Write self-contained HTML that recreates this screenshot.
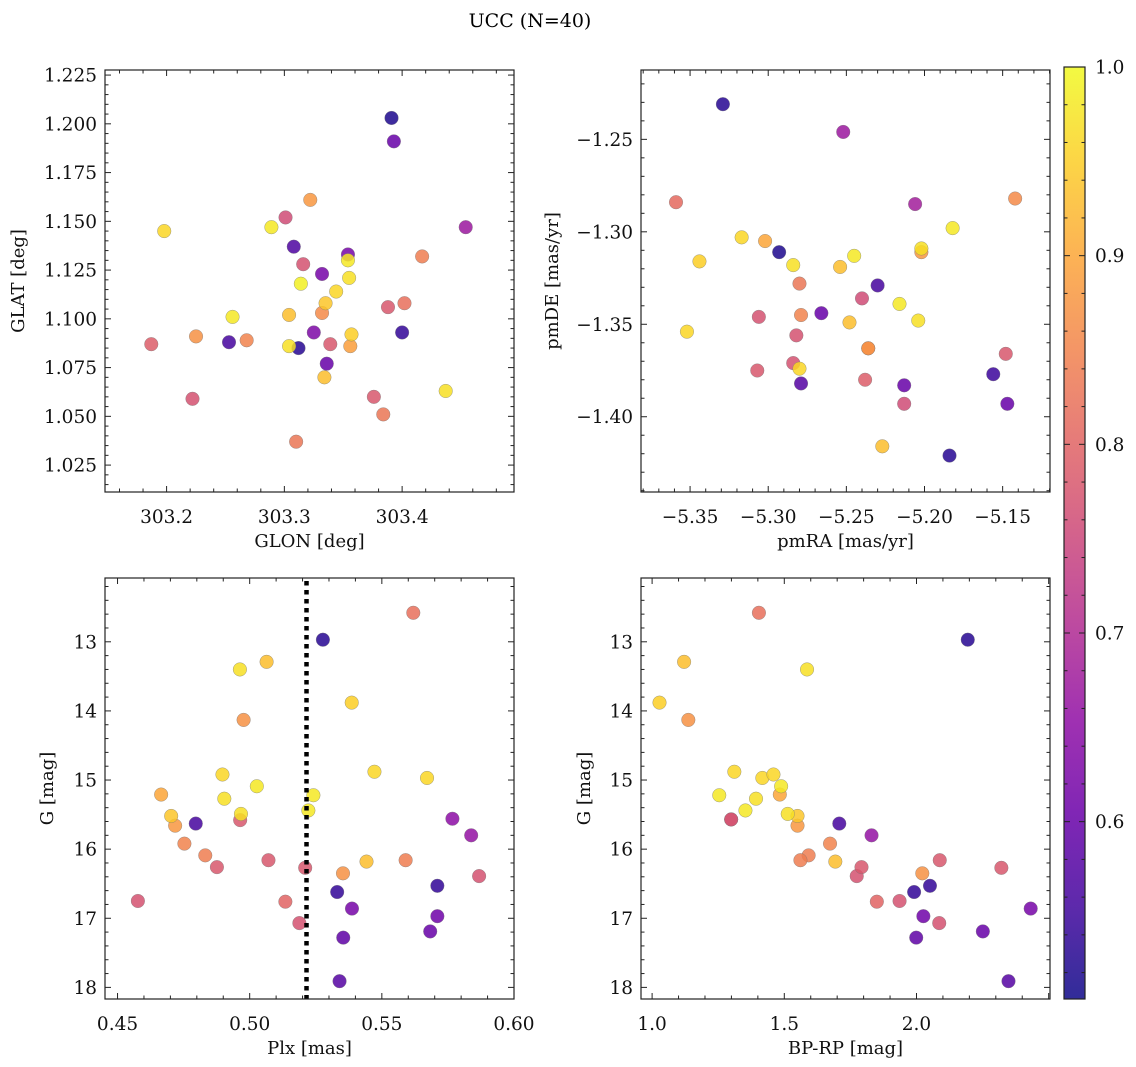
<!DOCTYPE html>
<html><head><meta charset="utf-8"><style>
html,body{margin:0;padding:0;background:#fff;}
svg{display:block;font-family:"DejaVu Serif","Liberation Serif",serif;}
</style></head><body>
<svg id="fig" width="1136" height="1067" viewBox="0 0 1136 1067" xmlns="http://www.w3.org/2000/svg">
<rect width="1136" height="1067" fill="#fff"/>
<text x="530" y="27" font-size="19" text-anchor="middle">UCC (N=40)</text>
</svg>
<script>
// ---- data ----
const glon = [303.391,303.393,303.322,303.301,303.289,303.198,303.454,303.308,303.354,303.354,303.316,303.332,303.355,303.417,303.314,303.344,303.335,303.332,303.304,303.256,303.388,303.402,303.225,303.187,303.253,303.268,303.325,303.400,303.357,303.356,303.339,303.304,303.312,303.336,303.334,303.437,303.222,303.376,303.384,303.310];
const glat = [1.203,1.191,1.161,1.152,1.147,1.145,1.147,1.137,1.133,1.130,1.128,1.123,1.121,1.132,1.118,1.114,1.108,1.103,1.102,1.101,1.106,1.108,1.091,1.087,1.088,1.089,1.093,1.093,1.092,1.086,1.087,1.086,1.085,1.077,1.070,1.063,1.059,1.060,1.051,1.037];
const probA = [0.52,0.60,0.88,0.76,0.98,0.96,0.67,0.57,0.62,0.98,0.77,0.62,0.97,0.84,0.99,0.96,0.94,0.86,0.93,0.98,0.78,0.82,0.87,0.79,0.56,0.85,0.63,0.54,0.95,0.89,0.78,0.97,0.53,0.60,0.93,0.97,0.77,0.78,0.83,0.83];

const pmra = [-5.329,-5.252,-5.359,-5.206,-5.142,-5.182,-5.317,-5.302,-5.293,-5.202,-5.202,-5.344,-5.245,-5.284,-5.254,-5.280,-5.230,-5.240,-5.216,-5.306,-5.279,-5.266,-5.248,-5.204,-5.352,-5.282,-5.236,-5.236,-5.284,-5.280,-5.307,-5.279,-5.238,-5.213,-5.213,-5.148,-5.156,-5.147,-5.227,-5.184];
const pmde = [-1.231,-1.246,-1.284,-1.285,-1.282,-1.298,-1.303,-1.305,-1.311,-1.309,-1.311,-1.316,-1.313,-1.318,-1.319,-1.328,-1.329,-1.336,-1.339,-1.346,-1.345,-1.344,-1.349,-1.348,-1.354,-1.356,-1.363,-1.363,-1.371,-1.374,-1.375,-1.382,-1.380,-1.383,-1.393,-1.366,-1.377,-1.393,-1.416,-1.421];
const probB = [0.53,0.67,0.81,0.68,0.86,0.98,0.96,0.90,0.52,0.97,0.88,0.95,0.98,0.97,0.93,0.83,0.56,0.76,0.98,0.77,0.85,0.60,0.93,0.97,0.96,0.77,0.86,0.87,0.77,0.96,0.78,0.58,0.79,0.60,0.76,0.78,0.55,0.60,0.93,0.53];

const plx = [0.5619,0.5277,0.5064,0.4963,0.5386,0.4977,0.4897,0.5472,0.5671,0.5027,0.4665,0.4904,0.5241,0.5222,0.4703,0.4967,0.4964,0.4718,0.4796,0.5767,0.5838,0.4753,0.4832,0.4876,0.5071,0.5210,0.5442,0.5590,0.5353,0.5868,0.5710,0.5331,0.4577,0.5135,0.5387,0.5710,0.5188,0.5354,0.5683,0.5340];
const gmagC = [12.58,12.97,13.29,13.40,13.88,14.13,14.92,14.88,14.97,15.09,15.21,15.27,15.22,15.44,15.52,15.49,15.58,15.66,15.63,15.56,15.80,15.92,16.09,16.26,16.16,16.27,16.18,16.16,16.35,16.39,16.53,16.62,16.75,16.76,16.86,16.97,17.07,17.28,17.19,17.91];
const probC = [0.82,0.53,0.93,0.97,0.95,0.87,0.96,0.96,0.96,0.98,0.90,0.97,0.98,0.98,0.94,0.97,0.78,0.88,0.56,0.65,0.66,0.85,0.84,0.78,0.78,0.78,0.93,0.84,0.87,0.77,0.54,0.54,0.77,0.80,0.62,0.61,0.77,0.59,0.60,0.58];
const plxCut = [0.5215];

const bprp = [1.404,2.194,1.121,1.586,1.028,1.137,1.311,1.417,1.459,1.488,1.483,1.254,1.393,1.353,1.513,1.550,1.299,1.299,1.550,1.708,1.830,1.673,1.592,1.561,1.693,1.792,1.774,2.088,2.321,2.022,2.051,1.991,1.850,1.936,2.432,2.026,2.086,1.999,2.251,2.348];
const gmagD = [12.58,12.97,13.29,13.40,13.88,14.13,14.88,14.97,14.92,15.09,15.21,15.22,15.27,15.44,15.49,15.52,15.57,15.57,15.66,15.63,15.80,15.92,16.09,16.16,16.18,16.26,16.39,16.16,16.27,16.35,16.53,16.62,16.76,16.75,16.86,16.97,17.07,17.28,17.19,17.91];
const probD = [0.82,0.53,0.93,0.97,0.95,0.87,0.96,0.96,0.96,0.98,0.90,0.98,0.97,0.98,0.97,0.94,0.78,0.72,0.88,0.56,0.66,0.85,0.84,0.84,0.93,0.78,0.77,0.78,0.78,0.87,0.54,0.54,0.80,0.77,0.62,0.61,0.77,0.59,0.60,0.58];

const cbTicks = [0.6,0.7,0.8,0.9,1.0];
const cbRange = [0.506,1.0];

// ---- helpers ----
const NS = "http://www.w3.org/2000/svg";
const svg = document.getElementById('fig');
const FS = 18.5;
const TS = 18;
function mk(tag, attrs, parent){const e=document.createElementNS(NS,tag);for(const k in attrs)e.setAttribute(k,attrs[k]);(parent||svg).appendChild(e);return e;}
const stops=[[13,8,135],[65,4,157],[106,0,168],[143,13,164],[177,42,144],[204,71,120],[225,100,98],[242,132,75],[252,166,54],[252,206,37],[240,249,33]];
function plasma(t){t=Math.max(0,Math.min(1,t))*10;const i=Math.min(9,Math.floor(t)),f=t-i;const a=stops[i],b=stops[i+1];return `rgb(${Math.round(a[0]+(b[0]-a[0])*f)},${Math.round(a[1]+(b[1]-a[1])*f)},${Math.round(a[2]+(b[2]-a[2])*f)})`;}
function pcol(p){return plasma((p-cbRange[0])/(cbRange[1]-cbRange[0]));}
function fmt(v,d){const s=v.toFixed(d);return s.replace('-','\u2212');}

function panel(cfg){
  const {x0,x1,y0,y1,xd,yd,xs,ys,name}=cfg;
  const g=mk('g',{});
  
  
  const X=v=>x0+(v-xd[0])/(xd[1]-xd[0])*(x1-x0);
  const Y=v=>y0+(yd[1]-v)/(yd[1]-yd[0])*(y1-y0);
  const idx=cfg.xv.map((_,i)=>i).sort((a,b)=>cfg.pv[a]-cfg.pv[b]);
  idx.forEach(i=>{
    const c=mk('circle',{cx:X(cfg.xv[i]),cy:Y(cfg.yv[i]),r:6.8,fill:pcol(cfg.pv[i]),'fill-opacity':0.85,stroke:'#777','stroke-width':0.5,'stroke-opacity':0.7},g);
    
    
  });
  if(cfg.vline!==undefined){
    const l=mk('line',{x1:X(cfg.vline),x2:X(cfg.vline),y1:y0+3,y2:y1,stroke:'#000','stroke-width':4.5,'stroke-dasharray':'4.5 4.5'},g);
    
    
  }
  const fr=mk('rect',{x:x0,y:y0,width:x1-x0,height:y1-y0,fill:'none',stroke:'#222','stroke-width':1.2},g);
  
  
  const eps=1e-9;
  for(let v=Math.ceil(xd[0]/xs.minor-eps)*xs.minor; v<=xd[1]+eps; v+=xs.minor){
    const px=X(v); const major=Math.abs(v/xs.major-Math.round(v/xs.major))<1e-6;
    const L=major?6:3.5;
    mk('line',{x1:px,x2:px,y1:y1,y2:y1-L,stroke:'#222','stroke-width':1},g);
    mk('line',{x1:px,x2:px,y1:y0,y2:y0+L,stroke:'#222','stroke-width':1},g);
  }
  xs.labels.forEach(v=>{
    const t=mk('text',{x:X(v),y:y1+31,'font-size':FS,'text-anchor':'middle',fill:'#111'},g);
    t.textContent=fmt(v,xs.dec);
    
    
  });
  for(let v=Math.ceil(yd[0]/ys.minor-eps)*ys.minor; v<=yd[1]+eps; v+=ys.minor){
    const py=Y(v); const major=Math.abs(v/ys.major-Math.round(v/ys.major))<1e-6;
    const L=major?6:3.5;
    mk('line',{x1:x0,x2:x0+L,y1:py,y2:py,stroke:'#222','stroke-width':1},g);
    mk('line',{x1:x1,x2:x1-L,y1:py,y2:py,stroke:'#222','stroke-width':1},g);
  }
  ys.labels.forEach(v=>{
    const t=mk('text',{x:x0-8,y:Y(v)+6.5,'font-size':FS,'text-anchor':'end',fill:'#111'},g);
    t.textContent=fmt(v,ys.dec);
    
    
  });
  const xt=mk('text',{x:(x0+x1)/2,y:y1+55,'font-size':TS,'text-anchor':'middle',fill:'#111'},g);
  xt.textContent=cfg.xlabel;
  
  
  const yt=mk('text',{x:0,y:0,'font-size':TS,'text-anchor':'middle',fill:'#111',transform:`translate(${cfg.ylx},${(y0+y1)/2}) rotate(-90)`},g);
  yt.textContent=cfg.ylabel;
  
  
}
function range(a,b,s){const r=[];for(let v=a;v<=b+1e-9;v+=s)r.push(+v.toFixed(6));return r;}

panel({name:'glon-glat-panel',x0:105,x1:514,y0:70,y1:492,xd:[303.1477,303.495],yd:[1.0112,1.2276],
  xs:{major:0.1,minor:0.02,labels:[303.2,303.3,303.4],dec:1},
  ys:{major:0.025,minor:0.005,labels:range(1.025,1.225,0.025),dec:3},
  xv:glon,yv:glat,pv:probA,xlabel:'GLON [deg]',ylabel:'GLAT [deg]',ylx:24});
panel({name:'pm-panel',x0:641,x1:1050,y0:70,y1:492,xd:[-5.3814,-5.1197],yd:[-1.4407,-1.2125],
  xs:{major:0.05,minor:0.01,labels:[-5.35,-5.30,-5.25,-5.20,-5.15],dec:2},
  ys:{major:0.05,minor:0.01,labels:[-1.40,-1.35,-1.30,-1.25],dec:2},
  xv:pmra,yv:pmde,pv:probB,xlabel:'pmRA [mas/yr]',ylabel:'pmDE [mas/yr]',ylx:558});
panel({name:'plx-g-panel',x0:105,x1:514,y0:578,y1:999,xd:[0.44526,0.6],yd:[-18.168,-12.077],
  xs:{major:0.05,minor:0.01,labels:[0.45,0.50,0.55,0.60],dec:2},
  ys:{major:1,minor:0.2,labels:[],dec:0},
  xv:plx,yv:gmagC.map(v=>-v),pv:probC,vline:plxCut[0],xlabel:'Plx [mas]',ylabel:'G [mag]',ylx:53});
panel({name:'cmd-panel',x0:641,x1:1050,y0:578,y1:999,xd:[0.958,2.505],yd:[-18.168,-12.077],
  xs:{major:0.5,minor:0.1,labels:[1.0,1.5,2.0],dec:1},
  ys:{major:1,minor:0.2,labels:[],dec:0},
  xv:bprp,yv:gmagD.map(v=>-v),pv:probD,xlabel:'BP-RP [mag]',ylabel:'G [mag]',ylx:590});
const gTicks=[13,14,15,16,17,18];
[[105],[641]].forEach(([x0])=>{
  gTicks.forEach(v=>{
    const y=578+(v-12.077)/(18.168-12.077)*(999-578);
    const t=mk('text',{x:x0-8,y:y+6.5,'font-size':FS,'text-anchor':'end',fill:'#111'});
    t.textContent=String(v);
    
    
  });
});
const cb={x0:1064,x1:1085,y0:67,y1:999};
const defs=mk('defs',{});
const lg=mk('linearGradient',{id:'cbg',x1:0,y1:1,x2:0,y2:0},defs);
for(let i=0;i<=20;i++){mk('stop',{offset:i/20,'stop-color':plasma(i/20)},lg);}
const cbr=mk('rect',{x:cb.x0,y:cb.y0,width:cb.x1-cb.x0,height:cb.y1-cb.y0,fill:'url(#cbg)','fill-opacity':0.85,stroke:'#222','stroke-width':1.2});


const CY=v=>cb.y0+(cbRange[1]-v)/(cbRange[1]-cbRange[0])*(cb.y1-cb.y0);
for(let v=0.52;v<=1.0001;v+=0.02){
  const y=CY(v);const major=Math.abs(v*10-Math.round(v*10))<1e-6;
  mk('line',{x1:cb.x1,x2:cb.x1-(major?6:3.5),y1:y,y2:y,stroke:'#222','stroke-width':1});
  mk('line',{x1:cb.x0,x2:cb.x0+(major?6:3.5),y1:y,y2:y,stroke:'#222','stroke-width':1});
}
cbTicks.forEach(v=>{
  const t=mk('text',{x:cb.x1+10,y:CY(v)+6.5,'font-size':FS,fill:'#111'});
  t.textContent=v.toFixed(1);
  
  
});
</script>
</body></html>
